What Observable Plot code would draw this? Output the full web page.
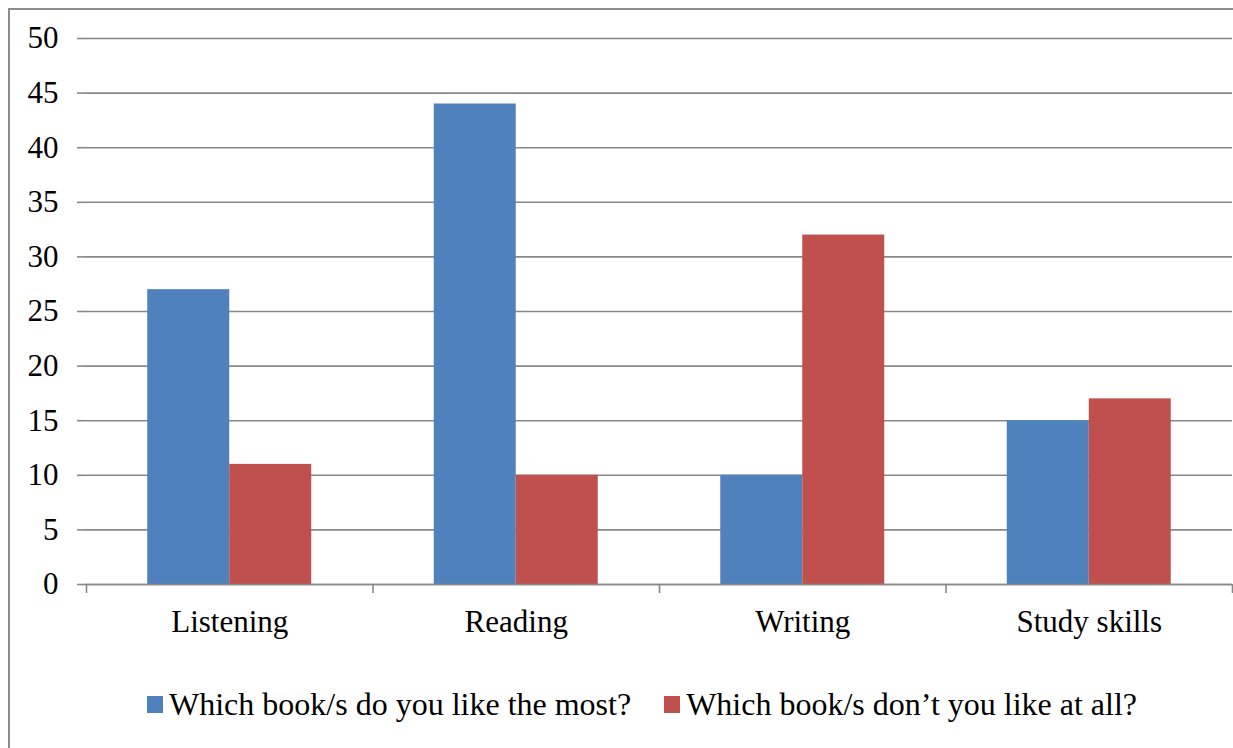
<!DOCTYPE html>
<html>
<head>
<meta charset="utf-8">
<script src="https://cdn.jsdelivr.net/npm/d3@7"></script>
<script src="https://cdn.jsdelivr.net/npm/@observablehq/plot@0.6"></script>
<style>
  html, body { margin: 0; padding: 0; background: #fff; overflow: hidden; }
  #wrap { position: relative; width: 1233px; height: 748px; }
  #border {
    position: absolute; left: 8px; top: 8px; width: 1400px; height: 900px;
    border: 2px solid #8c8c8c; box-sizing: border-box; pointer-events: none;
  }
  #legend {
    position: absolute; left: 0; top: 680px; width: 1233px; height: 48px;
    display: flex; align-items: center; justify-content: flex-start;
    padding-left: 147px; box-sizing: border-box;
    font-family: "Liberation Serif", "Times New Roman", serif; font-size: 32px; color: #000;
  }
  .item { display: flex; align-items: center; margin-right: 33px; white-space: nowrap; }
  .swatch { width: 16px; height: 17px; margin-right: 6px; }
</style>
</head>
<body>
<div id="wrap">
  <div id="chart"></div>
  <div id="legend"></div>
  <div id="border"></div>
</div>
<script>
// Skill books, counts of answers to two questions
const categories = ["Listening", "Reading", "Writing", "Study skills"];
const seriesNames = ["Which book/s do you like the most?", "Which book/s don’t you like at all?"];
const likeMost = [27, 44, 10, 15];
const likeLeast = [11, 10, 32, 17];
const seriesColors = ["#4F81BD", "#C0504D"];
const yTicks = [0, 5, 10, 15, 20, 25, 30, 35, 40, 45, 50];

// Each category occupies one unit on the x scale; bars sit side by side at its center
const barWidth = 0.2862;
const rows = categories.flatMap((c, i) => [
  {category: c, index: i, series: seriesNames[0], value: likeMost[i], k: 0},
  {category: c, index: i, series: seriesNames[1], value: likeLeast[i], k: 1}
]);

const gray = "#888888";

const chart = Plot.plot({
  width: 1233,
  height: 680,
  marginLeft: 86,
  marginRight: 1,
  marginTop: 38,
  marginBottom: 96,
  style: {fontFamily: "Liberation Serif, Times New Roman, serif", fontSize: "31px", color: "#000", background: "transparent"},
  x: {domain: [0, categories.length], label: null},
  y: {domain: [0, 50], label: null},
  color: {domain: seriesNames, range: seriesColors},
  marks: [
    Plot.ruleY(yTicks, {stroke: gray, strokeWidth: 1.6, strokeOpacity: 1}),
    Plot.axisY({ticks: yTicks, label: null, tickSize: 9, tickPadding: 19, stroke: gray, strokeWidth: 1.6, fontSize: 31, fill: "#000"}),
    Plot.rectY(rows, {
      x1: d => d.index + 0.5 + (d.k - 1) * barWidth,
      x2: d => d.index + 0.5 + d.k * barWidth,
      y: "value",
      fill: "series"
    }),
    Plot.axisX({ticks: d3.range(categories.length + 1), label: null, tickSize: 9, tickFormat: () => "", stroke: gray, strokeWidth: 1.6}),
    Plot.ruleY([0], {stroke: gray, strokeWidth: 1.6}),
    Plot.text(categories, {x: (d, i) => i + 0.5, y: () => 0, text: d => d, dy: 38, fontSize: 31, fill: "#000", lineAnchor: "middle"})
  ]
});
document.getElementById("chart").appendChild(chart);

const legend = document.getElementById("legend");
seriesNames.forEach((name, i) => {
  const item = document.createElement("div");
  item.className = "item";
  const sw = document.createElement("span");
  sw.className = "swatch";
  sw.style.background = seriesColors[i];
  const label = document.createElement("span");
  label.textContent = name;
  item.appendChild(sw);
  item.appendChild(label);
  legend.appendChild(item);
});
</script>
</body>
</html>
